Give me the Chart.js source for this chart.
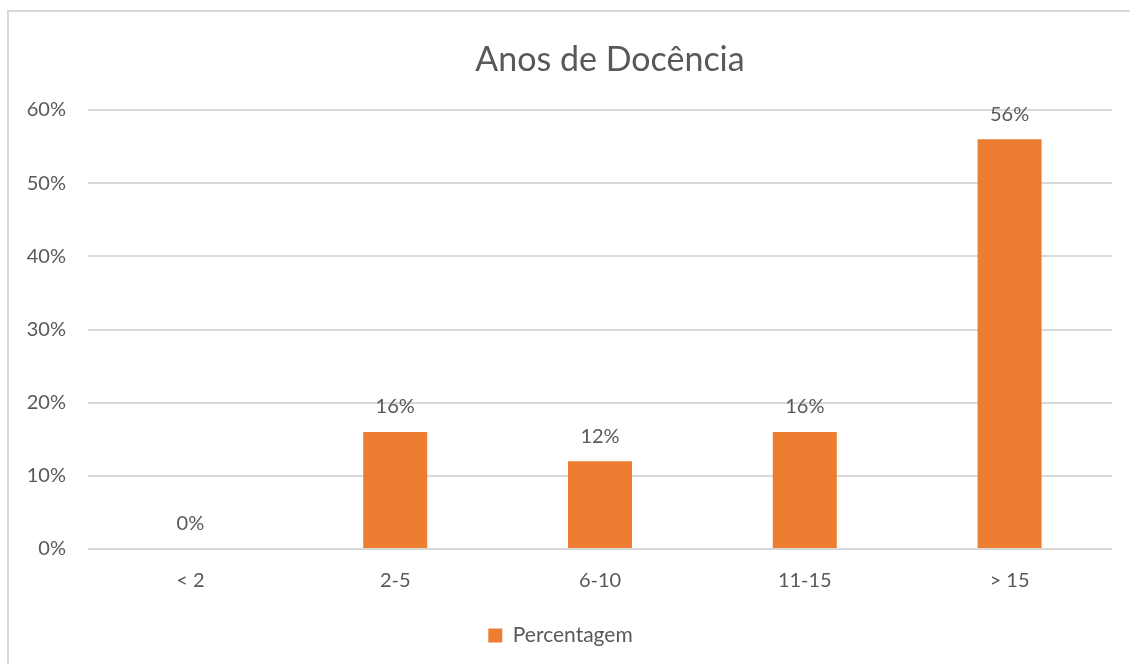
<!DOCTYPE html>
<html>
<head>
<meta charset="utf-8">
<script src="https://cdn.jsdelivr.net/npm/chart.js@4.4.1/dist/chart.umd.min.js"></script>
<style>
  html, body { margin: 0; padding: 0; background: #fff; overflow: hidden; }
  #frame {
    position: absolute; left: 7px; top: 10px;
    width: 1130px; height: 660px;
    border: 2px solid #d9d9d9; box-sizing: border-box;
  }
  #wrap { position: absolute; left: 9px; top: 12px; width: 1121px; height: 652px; }
  #title {
    position: absolute; left: 410px; top: 36px; width: 400px;
    text-align: center; font: 34px Lato, 'Open Sans', sans-serif; color: #595959;
    line-height: 44px;
  }
</style>
</head>
<body>
<div id="frame"></div>
<div id="wrap"><canvas id="chart"></canvas></div>
<div id="title">Anos de Docência</div>
<script>
const categories = ["< 2", "2-5", "6-10", "11-15", "> 15"];
const percentagem = [0, 16, 12, 16, 56];
const yTicks = [0, 10, 20, 30, 40, 50, 60];

const textColor = "#595959";
const barColor = "#ED7D31";
const gridColor = "#d9d9d9";
const fontFamily = "Lato, 'Open Sans', sans-serif";

// value labels above each bar
const barLabels = {
  id: "barLabels",
  afterDatasetsDraw(chart) {
    const ctx = chart.ctx;
    const meta = chart.getDatasetMeta(0);
    ctx.save();
    ctx.font = "20px " + fontFamily;
    ctx.fillStyle = textColor;
    ctx.textAlign = "center";
    ctx.textBaseline = "middle";
    meta.data.forEach((bar, i) => {
      ctx.fillText(percentagem[i] + "%", bar.x, bar.y - 25);
    });
    ctx.restore();
  }
};

new Chart(document.getElementById("chart").getContext("2d"), {
  type: "bar",
  data: {
    labels: categories,
    datasets: [{
      label: "Percentagem",
      data: percentagem,
      backgroundColor: barColor,
      borderWidth: 0,
      categoryPercentage: 1,
      barPercentage: 0.3125
    }]
  },
  options: {
    responsive: true,
    maintainAspectRatio: false,
    animation: false,
    layout: { padding: { top: 98, right: 18, bottom: 8, left: 0 } },
    plugins: {
      title: { display: false },
      legend: {
        position: "bottom",
        labels: {
          color: textColor,
          font: { family: fontFamily, size: 21 },
          boxWidth: 14,
          boxHeight: 14,
          padding: 10
        }
      },
      tooltip: { enabled: false }
    },
    scales: {
      x: {
        grid: { display: false },
        border: { display: false },
        ticks: { color: textColor, font: { family: fontFamily, size: 20 }, padding: 12 },
        afterFit: function (scale) { scale.height = 66; }
      },
      y: {
        min: 0,
        max: 60,
        afterBuildTicks: function (scale) { scale.ticks = yTicks.map(v => ({ value: v })); },
        grid: { color: gridColor, lineWidth: 2, drawTicks: false },
        border: { display: false },
        ticks: {
          color: textColor,
          font: { family: fontFamily, size: 20 },
          padding: 22,
          callback: v => v + "%"
        },
        afterFit: function (scale) { scale.width = 79; }
      }
    }
  },
  plugins: [barLabels]
});
</script>
</body>
</html>
